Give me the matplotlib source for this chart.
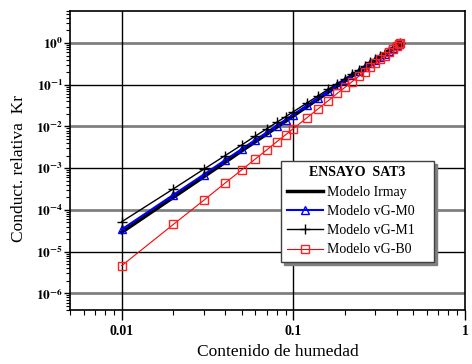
import numpy as np
import matplotlib
matplotlib.use('Agg')
import matplotlib.pyplot as plt
from matplotlib.ticker import LogLocator, FixedLocator, NullFormatter, FuncFormatter

plt.rcParams['font.family'] = ['Liberation Serif', 'DejaVu Serif']
plt.rcParams['mathtext.fontset'] = 'stix'

# contenido de humedad
theta = [0.01, 0.02, 0.03, 0.04, 0.05, 0.06, 0.07, 0.08, 0.09, 0.10,
         0.12, 0.14, 0.16, 0.18, 0.20, 0.22, 0.24, 0.26, 0.28, 0.30,
         0.32, 0.34, 0.36, 0.38, 0.40, 0.41, 0.42]

kr_irmay = [2.9e-5, 2.0e-4, 6.2e-4, 1.38e-3, 2.6e-3, 4.3e-3, 6.6e-3, 9.6e-3, 1.34e-2, 1.80e-2,
            3.00e-2, 4.6e-2, 6.7e-2, 9.3e-2, 0.125, 0.164, 0.209, 0.261, 0.321, 0.390,
            0.467, 0.554, 0.650, 0.755, 0.873, 0.935, 1.0]
kr_m0 = [3.4e-5, 2.3e-4, 7.0e-4, 1.56e-3, 2.87e-3, 4.75e-3, 7.2e-3, 1.05e-2, 1.45e-2, 1.93e-2,
         3.19e-2, 4.88e-2, 7.0e-2, 9.7e-2, 0.130, 0.169, 0.215, 0.268, 0.328, 0.396,
         0.473, 0.560, 0.655, 0.760, 0.875, 0.936, 1.0]
kr_m1 = [5.2e-5, 3.2e-4, 9.4e-4, 2.0e-3, 3.6e-3, 5.9e-3, 8.8e-3, 1.26e-2, 1.71e-2, 2.26e-2,
         3.66e-2, 5.5e-2, 7.8e-2, 0.107, 0.141, 0.182, 0.228, 0.282, 0.343, 0.411,
         0.488, 0.573, 0.666, 0.768, 0.880, 0.939, 1.0]
kr_b0 = [4.6e-6, 4.5e-5, 1.69e-4, 4.4e-4, 9.1e-4, 1.66e-3, 2.75e-3, 4.3e-3, 6.3e-3, 8.9e-3,
         1.62e-2, 2.69e-2, 4.18e-2, 6.2e-2, 8.7e-2, 0.119, 0.159, 0.207, 0.264, 0.331,
         0.409, 0.499, 0.602, 0.720, 0.853, 0.925, 1.0]

decades = [0, -1, -2, -3, -4, -5, -6]
xticks = [0.01, 0.1, 1]
xtick_labels = ['0.01', '0.1', '1']

fig = plt.figure(figsize=(4.72, 3.64), dpi=100)
ax = fig.add_axes([0.1483, 0.1484, 0.837, 0.8226])
ax.set_xscale('log')
ax.set_yscale('log')
ax.set_xlim(0.005, 1)
ax.set_ylim(4e-7, 6)

# grid: alternating gray/black horizontal lines, black verticals
for d in decades:
    if d % 2 == 0:
        ax.axhline(10.0 ** d, color='#808080', lw=2.0, zorder=1)
    else:
        ax.axhline(10.0 ** d, color='black', lw=1.0, zorder=1)
for xv in xticks[:-1]:
    ax.axvline(xv, color='black', lw=1.0, zorder=1)

ax.plot(theta, kr_irmay, color='black', lw=2.5, label='Modelo Irmay', zorder=3)
ax.plot(theta, kr_m0, color='#0000ff', lw=1.5, marker='^', ms=6, mfc='none',
        mec='#0000ff', mew=1.0, label='Modelo vG-M0', zorder=4)
ax.plot(theta, kr_m1, color='black', lw=1.0, marker='+', ms=7, mew=1.0,
        label='Modelo vG-M1', zorder=5)
ax.plot(theta, kr_b0, color='#ff0000', lw=0.8, marker='s', ms=5.5, mfc='none',
        mec='#ff2020', mew=1.0, label='Modelo vG-B0', zorder=6)

ax.xaxis.set_major_locator(FixedLocator(xticks))
ax.set_xticklabels(xtick_labels, fontweight='bold', fontsize=10)
ax.xaxis.set_minor_locator(LogLocator(base=10, subs=np.arange(2, 10)))
ax.xaxis.set_minor_formatter(NullFormatter())

ax.yaxis.set_major_locator(FixedLocator([10.0 ** d for d in decades]))
ax.yaxis.set_major_formatter(FuncFormatter(lambda v, p: r'$\mathbf{10^{%d}}$' % round(np.log10(v))))
ax.yaxis.set_minor_locator(LogLocator(base=10, subs=np.arange(2, 10), numticks=20))
ax.yaxis.set_minor_formatter(NullFormatter())

ax.tick_params(axis='x', which='major', direction='out', length=7, width=1, pad=4)
ax.tick_params(axis='x', which='minor', direction='out', length=3.5, width=0.8)
ax.tick_params(axis='y', which='major', direction='out', length=4, width=1, labelsize=9.5, pad=1)
ax.tick_params(axis='y', which='minor', direction='out', length=3, width=0.8)
for sp in ax.spines.values():
    sp.set_linewidth(1.2)

fig.text(278 / 472, 1 - 352 / 364, 'Contenido de humedad', fontsize=12.5,
         ha='center', va='center')
fig.text(19 / 472, 1 - 168 / 364, 'Conduct. relativa  Kr', fontsize=12.5,
         ha='center', va='center', rotation=90)

leg = ax.legend(title='ENSAYO  SAT3', loc='upper left',
                bbox_to_anchor=(0.534, 0.137, 0.388, 0.361), mode='expand',
                borderaxespad=0, fancybox=False, shadow={'color': '#808080', 'alpha': 1},
                fontsize=10, title_fontproperties={'weight': 'bold', 'size': 10},
                handlelength=2.6, handletextpad=0.3, labelspacing=0.45,
                edgecolor='#404040', framealpha=1)
leg.get_frame().set_linewidth(1.0)
leg.set_zorder(10)

fig.savefig('out.png', dpi=100)
